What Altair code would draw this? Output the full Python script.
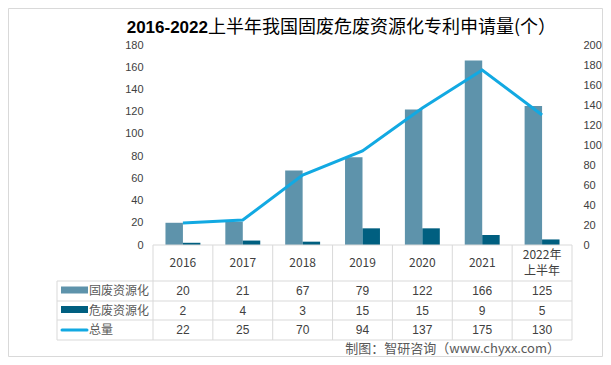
import altair as alt
import pandas as pd

categories = ["2016", "2017", "2018", "2019", "2020", "2021", "2022年上半年"]
header_labels = ["2016", "2017", "2018", "2019", "2020", "2021", "2022年\n上半年"]
solid = [20, 21, 67, 79, 122, 166, 125]
hazardous = [2, 4, 3, 15, 15, 9, 5]
total = [22, 25, 70, 94, 137, 175, 130]
series_names = ["固废资源化", "危废资源化", "总量"]
colors = ["#5E93AB", "#005F80", "#12A9E2"]

W, H = 419, 200
GRID = "#D9D9D9"
TXT = "#404040"
CJK = "Noto Sans CJK SC"
LAT = "Liberation Sans"

bars_df = pd.DataFrame(
    [{"cat": c, "series": series_names[0], "value": v} for c, v in zip(categories, solid)]
    + [{"cat": c, "series": series_names[1], "value": v} for c, v in zip(categories, hazardous)]
)
line_df = pd.DataFrame({"cat": categories, "total": total})
table_df = pd.DataFrame({"cat": categories, "head": header_labels,
                         "s": solid, "h": hazardous, "t": total})
table_df["nlines"] = table_df["head"].str.count("\n") + 1
one = pd.DataFrame({"a": [0]})

xenc = alt.X("cat:N", sort=categories, axis=None,
             scale=alt.Scale(paddingInner=0, paddingOuter=0))

bars = alt.Chart(bars_df).mark_bar().encode(
    x=xenc,
    xOffset=alt.XOffset("series:N", sort=series_names[:2],
                        scale=alt.Scale(paddingInner=0, paddingOuter=0.714)),
    y=alt.Y("value:Q", scale=alt.Scale(domain=[0, 180]),
            axis=alt.Axis(orient="left", values=list(range(0, 181, 20)), title=None,
                          domain=False, ticks=False, grid=False, labelPadding=10,
                          labelFont=LAT, labelFontSize=11, labelColor=TXT)),
    color=alt.Color("series:N", scale=alt.Scale(domain=series_names[:2], range=colors[:2]),
                    legend=None),
)

line = alt.Chart(line_df).mark_line(color=colors[2], strokeWidth=3).encode(
    x=xenc,
    y=alt.Y("total:Q", scale=alt.Scale(domain=[0, 200]),
            axis=alt.Axis(orient="right", values=list(range(0, 201, 20)), title=None,
                          domain=False, ticks=False, grid=False, labelPadding=11,
                          labelFont=LAT, labelFontSize=11, labelColor=TXT)),
)

# table grid
vlines = alt.Chart(table_df).mark_rule(color=GRID, strokeWidth=1).encode(
    x=alt.X("cat:N", sort=categories, axis=None, bandPosition=0),
    y=alt.value(H), y2=alt.value(295),
)
vlast = alt.Chart(table_df.tail(1)).mark_rule(color=GRID, strokeWidth=1).encode(
    x=alt.X("cat:N", sort=categories, axis=None, bandPosition=1),
    y=alt.value(H), y2=alt.value(295),
)
hrules = [
    alt.Chart(one).mark_rule(color=GRID, strokeWidth=1).encode(
        x=alt.value(0), x2=alt.value(W), y=alt.value(H))
]
for yy in [236, 256, 275, 295]:
    hrules.append(alt.Chart(one).mark_rule(color=GRID, strokeWidth=1).encode(
        x=alt.value(-96), x2=alt.value(W), y=alt.value(yy)))
leftb = alt.Chart(one).mark_rule(color=GRID, strokeWidth=1).encode(
    x=alt.value(-96), y=alt.value(236), y2=alt.value(295))

# header labels (single-line centred in the header row, two-line labels start higher)
head1 = alt.Chart(table_df[table_df["nlines"] == 1]).mark_text(
    font=CJK, fontSize=12, color=TXT, baseline="middle").encode(
    x=xenc, y=alt.value(218), text="head:N")
head2 = alt.Chart(table_df[table_df["nlines"] == 2]).mark_text(
    font=CJK, fontSize=12, color=TXT, baseline="middle", lineBreak="\n",
    lineHeight=16).encode(
    x=xenc, y=alt.value(210), text="head:N")

rows = []
for field, yy in [("s", 246), ("h", 265.5), ("t", 285)]:
    rows.append(alt.Chart(table_df).mark_text(font=LAT, fontSize=12, color=TXT,
                                              baseline="middle").encode(
        x=xenc, y=alt.value(yy), text=f"{field}:Q"))

# legend column in table
sw1 = alt.Chart(one).mark_rect(color=colors[0]).encode(
    x=alt.value(-92), x2=alt.value(-65), y=alt.value(241.5), y2=alt.value(248.5))
sw2 = alt.Chart(one).mark_rect(color=colors[1]).encode(
    x=alt.value(-92), x2=alt.value(-65), y=alt.value(261), y2=alt.value(268))
sw3 = alt.Chart(one).mark_rule(color=colors[2], strokeWidth=3, strokeCap="round").encode(
    x=alt.value(-91), x2=alt.value(-66), y=alt.value(285))
labels = []
for name, yy in zip(series_names, [246, 265.5, 285]):
    labels.append(alt.Chart(one).mark_text(text=name, font=CJK, fontSize=12, color="#595959",
                                           align="left", baseline="middle").encode(
        x=alt.value(-64), y=alt.value(yy)))

# title
t1 = alt.Chart(one).mark_text(text="2016-2022", font=LAT, fontSize=17, fontWeight="bold",
                              color="#000000", align="right", baseline="middle").encode(
    x=alt.value(55), y=alt.value(-17))
t2 = alt.Chart(one).mark_text(text="上半年我国固废危废资源化专利申请量(个）", font=CJK, fontSize=18,
                              color="#000000", align="left", baseline="middle").encode(
    x=alt.value(55), y=alt.value(-17))
credit = alt.Chart(one).mark_text(text="制图：智研咨询（www.chyxx.com）", font=CJK, fontSize=13,
                                  color="#595959", align="right", baseline="middle").encode(
    x=alt.value(407), y=alt.value(304))
border = alt.Chart(one).mark_rect(fill=None, stroke=GRID, strokeWidth=1).encode(
    x=alt.value(-144.5), x2=alt.value(449.5), y=alt.value(-36.5), y2=alt.value(311.5))

main = alt.layer(bars, line).resolve_scale(y="independent")

chart = alt.layer(
    main, border, vlines, vlast, *hrules, leftb, head1, head2, *rows, sw1, sw2, sw3, *labels,
    t1, t2, credit
).properties(
    width=W, height=H,
    padding={"left": 145, "top": 37, "right": 31, "bottom": 112},
    autosize=alt.AutoSizeParams(type="none"),
    background="white",
).configure_view(stroke=None)

chart.save("out.html", embed_options={"renderer": "svg", "actions": False})
